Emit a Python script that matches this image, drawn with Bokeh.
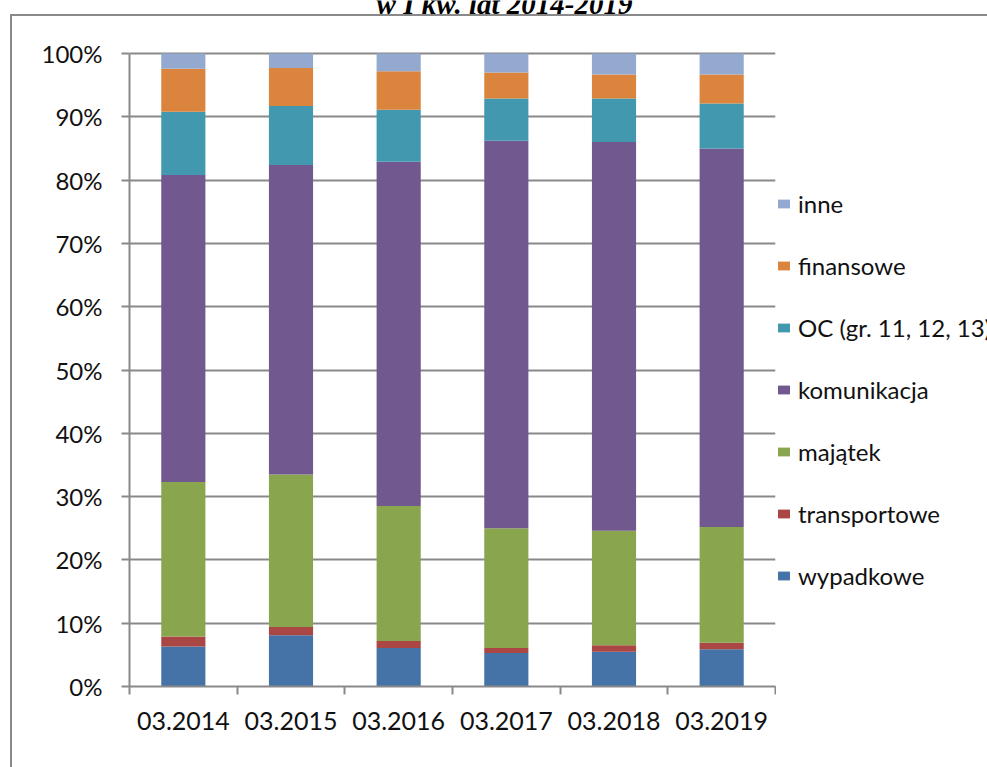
from bokeh.plotting import figure
from bokeh.layouts import row
from bokeh.models import (ColumnDataSource, Range1d, FixedTicker, NumeralTickFormatter,
                          Legend, LegendItem, Label)
from bokeh.embed import file_html
from bokeh.resources import INLINE

# ---- data (percent shares) ----
categories = ["03.2014", "03.2015", "03.2016", "03.2017", "03.2018", "03.2019"]
series = ["wypadkowe", "transportowe", "majątek", "komunikacja",
          "OC (gr. 11, 12, 13)", "finansowe", "inne"]
wypadkowe = [6.3, 8.1, 6.1, 5.3, 5.5, 5.9]
transportowe = [1.6, 1.3, 1.1, 0.8, 1.0, 1.0]
majatek = [24.4, 24.1, 21.3, 18.9, 18.1, 18.3]
komunikacja = [48.5, 48.9, 54.4, 61.2, 61.4, 59.8]
oc = [10.0, 9.3, 8.2, 6.7, 6.9, 7.1]
finansowe = [6.8, 6.0, 6.1, 4.1, 3.8, 4.6]
inne = [2.4, 2.3, 2.8, 3.0, 3.3, 3.3]
y_ticks = [i / 10 for i in range(11)]
title_text = "w I kw. lat 2014-2019"

colors = ["#4572A7", "#AA4643", "#89A54E", "#71588F", "#4198AF", "#DB843D", "#93A9CF"]
values = [wypadkowe, transportowe, majatek, komunikacja, oc, finansowe, inne]
keys = ["s%d" % i for i in range(len(series))]

totals = [sum(v[j] for v in values) for j in range(len(categories))]
data = {"x": [i + 0.5 for i in range(len(categories))]}
for k, v in zip(keys, values):
    data[k] = [v[j] / totals[j] for j in range(len(categories))]
src = ColumnDataSource(data)

FONT = "Lato"
GRAY = "#898989"
TXT = "#111111"

H = 767
FRAME_BOTTOM = 686      # pixel row of 0 %
FRAME_TOP100 = 53       # pixel row of 100 %
y_end = FRAME_BOTTOM / (FRAME_BOTTOM - FRAME_TOP100)   # frame reaches the top edge

grad = "linear-gradient(%s, %s)" % (GRAY, GRAY)

p = figure(width=776, height=H, output_backend="svg", toolbar_location=None,
           x_range=Range1d(0, len(categories)), y_range=Range1d(0, y_end),
           min_border_left=129, min_border_right=1, min_border_top=0,
           min_border_bottom=H - FRAME_BOTTOM)
p.outline_line_color = None
p.background_fill_color = None
p.border_fill_color = None
# left and top edge of the surrounding chart box
p.styles = {
    "background-color": "white",
    "background-image": grad + ", " + grad,
    "background-size": "3000px 2px, 2px 3000px",
    "background-position": "10px 14px, 10px 14px",
    "background-repeat": "no-repeat",
}

renderers = p.vbar_stack(keys, x="x", width=0.41, fill_color=colors,
                         line_color=None, source=src)

# y axis
p.yaxis.bounds = (0, 1)
p.yaxis.ticker = FixedTicker(ticks=y_ticks, minor_ticks=[])
p.yaxis.formatter = NumeralTickFormatter(format="0%")
p.yaxis.axis_line_color = GRAY
p.yaxis.axis_line_width = 2
p.yaxis.major_tick_line_color = GRAY
p.yaxis.major_tick_line_width = 2
p.yaxis.major_tick_out = 8
p.yaxis.major_tick_in = 0
p.yaxis.minor_tick_line_color = None
p.yaxis.major_label_standoff = 19
p.yaxis.major_label_text_font = FONT
p.yaxis.major_label_text_font_size = "24px"
p.yaxis.major_label_text_color = TXT

# x axis: labels at centres, ticks at category boundaries
p.xaxis.ticker = FixedTicker(ticks=data["x"],
                             minor_ticks=list(range(len(categories) + 1)))
p.xaxis.major_label_overrides = {x: c for x, c in zip(data["x"], categories)}
p.xaxis.axis_line_color = GRAY
p.xaxis.axis_line_width = 2
p.xaxis.major_tick_line_color = None
p.xaxis.major_tick_out = 0
p.xaxis.major_tick_in = 0
p.xaxis.minor_tick_line_color = GRAY
p.xaxis.minor_tick_line_width = 2
p.xaxis.minor_tick_out = 8
p.xaxis.minor_tick_in = 0
p.xaxis.major_label_standoff = 17
p.xaxis.major_label_text_font = FONT
p.xaxis.major_label_text_font_size = "25px"
p.xaxis.major_label_text_color = TXT

p.xgrid.visible = False
p.ygrid.ticker = FixedTicker(ticks=y_ticks)
p.ygrid.grid_line_color = GRAY
p.ygrid.grid_line_width = 2

# title line (cut at the top of the picture)
title = Label(x=375, y=FRAME_BOTTOM - 3.5, x_units="screen", y_units="screen",
              text=title_text, text_font="Liberation Serif",
              text_font_style="bold italic", text_font_size="29px",
              text_align="center", text_baseline="alphabetic", text_color="#000000")
p.add_layout(title)

# ---- legend panel to the right of the plot area ----
# same stacked bars, kept out of this panel's view, only to supply legend keys
lf = figure(width=987 - 776, height=H, output_backend="svg", toolbar_location=None,
            x_range=Range1d(-2, -1), y_range=Range1d(0, 1),
            x_axis_type=None, y_axis_type=None,
            min_border_left=0, min_border_right=0, min_border_top=0, min_border_bottom=0)
lf.outline_line_color = None
lf.background_fill_color = None
lf.border_fill_color = None
lf.xgrid.visible = False
lf.ygrid.visible = False
lf.styles = {
    "background-color": "white",
    "background-image": grad,
    "background-size": "3000px 2px",
    "background-position": "0px 14px",
    "background-repeat": "no-repeat",
}
keys_r = lf.vbar_stack(keys, x="x", width=0.41, fill_color=colors,
                       line_color=None, source=src)
items = [LegendItem(label=series[i], renderers=[keys_r[i]])
         for i in reversed(range(len(series)))]
legend = Legend(items=items, location=(0, 96.5), orientation="vertical",
                glyph_width=15, glyph_height=11, label_standoff=7,
                spacing=33, label_height=29, padding=0, margin=0,
                border_line_color=None, background_fill_alpha=0,
                label_text_font=FONT, label_text_font_size="24px",
                label_text_color=TXT)
lf.add_layout(legend)

layout = row(p, lf)
open("out.html", "w").write(file_html(layout, INLINE))
